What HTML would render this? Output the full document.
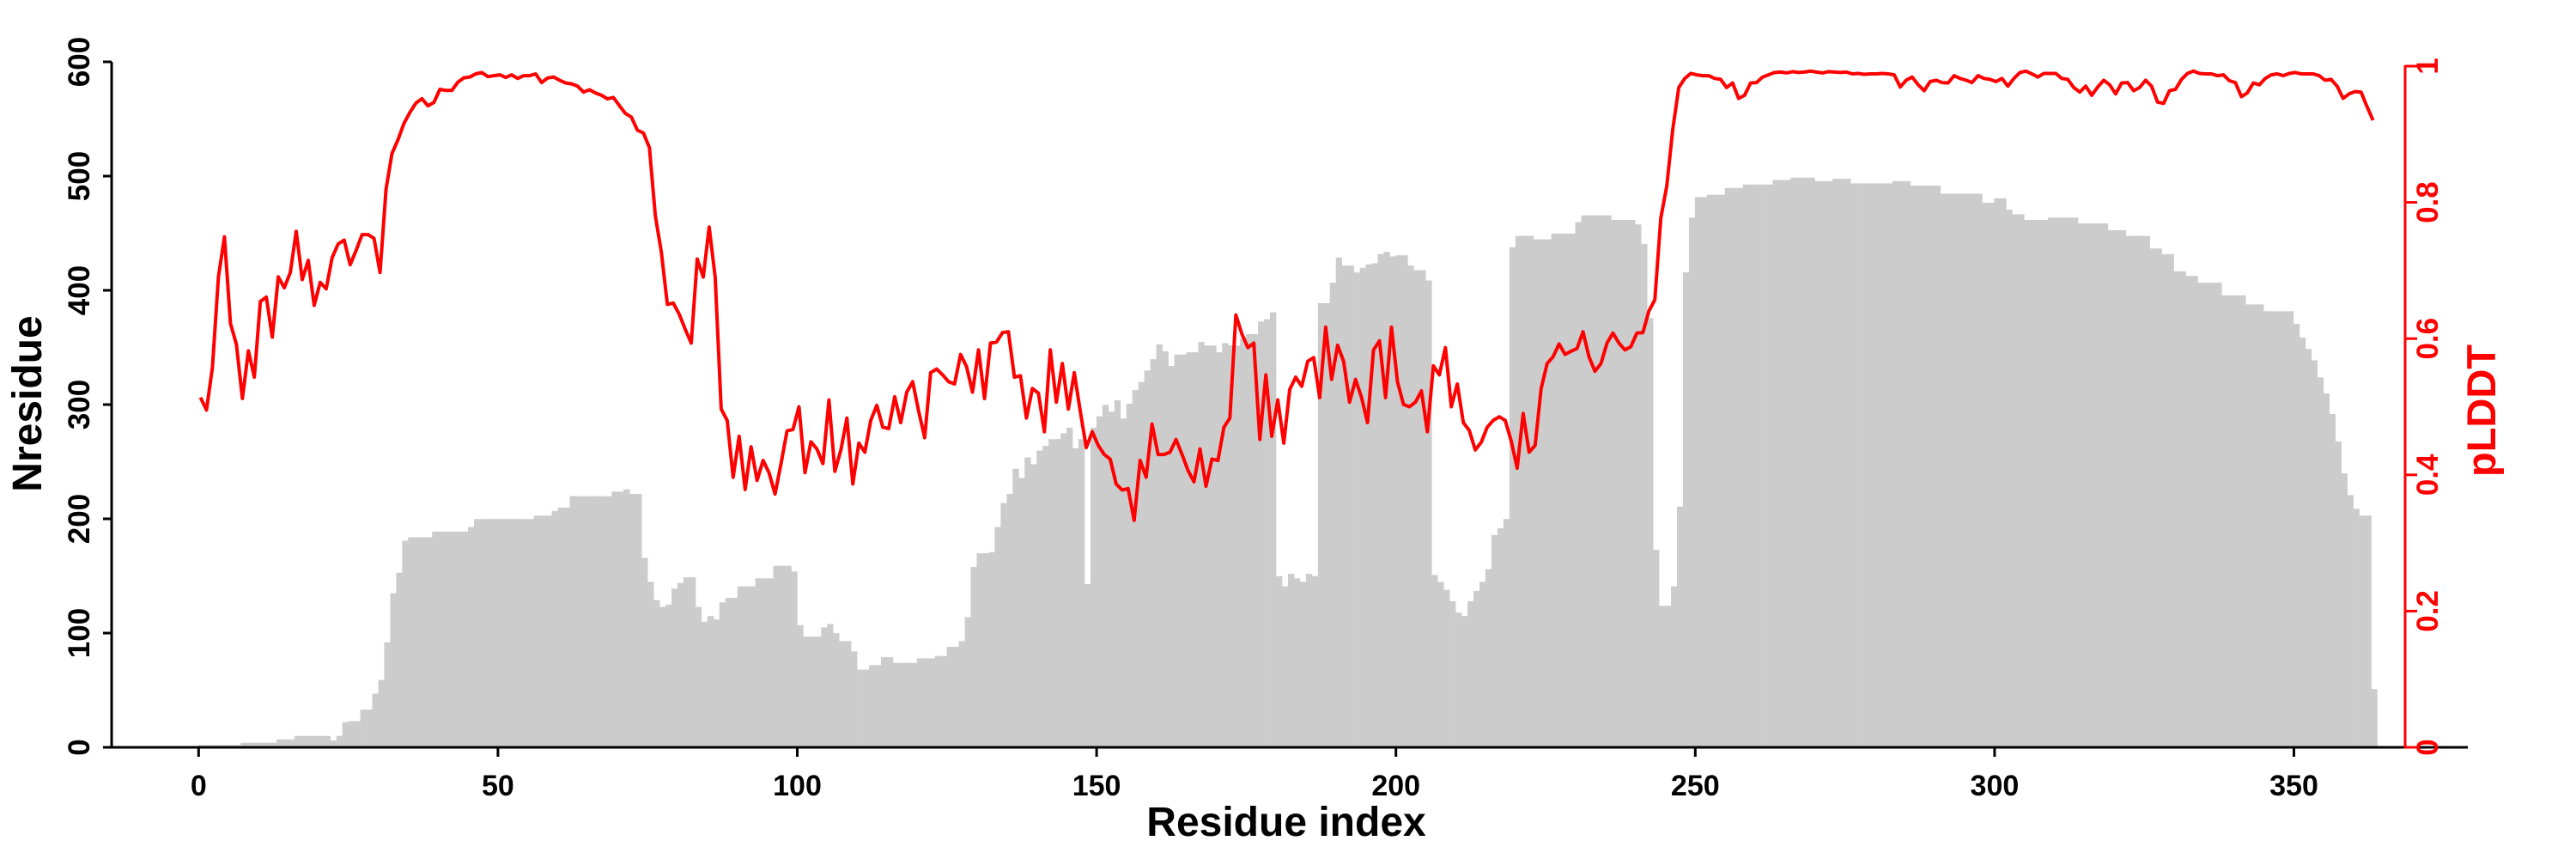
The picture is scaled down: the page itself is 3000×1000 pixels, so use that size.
<!DOCTYPE html>
<html><head><meta charset="utf-8">
<style>
html,body{margin:0;padding:0;background:#fff;}
svg{display:block;}
text{font-family:"Liberation Sans",Arial,sans-serif;font-weight:bold;}
</style></head>
<body>
<svg id="s" xmlns="http://www.w3.org/2000/svg" width="3000" height="1000" viewBox="0 0 3000 1000">
<g id="bars" fill="#cccccc"></g>
<polyline id="line" fill="none" stroke="#ff0000" stroke-width="4" stroke-linejoin="round"/>
<!-- left axis -->
<line x1="130" y1="72" x2="130" y2="871.5" stroke="#000" stroke-width="3"/>
<g stroke="#000" stroke-width="3">
<line x1="120" y1="870" x2="130" y2="870"/><line x1="120" y1="737" x2="130" y2="737"/>
<line x1="120" y1="604" x2="130" y2="604"/><line x1="120" y1="471" x2="130" y2="471"/>
<line x1="120" y1="338" x2="130" y2="338"/><line x1="120" y1="205" x2="130" y2="205"/>
<line x1="120" y1="72" x2="130" y2="72"/>
</g>
<g font-size="35" text-anchor="middle" fill="#000">
<text transform="translate(104,870) rotate(-90)">0</text>
<text transform="translate(104,737) rotate(-90)">100</text>
<text transform="translate(104,604) rotate(-90)">200</text>
<text transform="translate(104,471) rotate(-90)">300</text>
<text transform="translate(104,338) rotate(-90)">400</text>
<text transform="translate(104,205) rotate(-90)">500</text>
<text transform="translate(104,72) rotate(-90)">600</text>
</g>
<text transform="translate(48,470) rotate(-90)" font-size="48" text-anchor="middle">Nresidue</text>
<!-- x axis -->
<line x1="122" y1="870" x2="2874" y2="870" stroke="#000" stroke-width="3"/>
<g id="xt" stroke="#000" stroke-width="3"></g>
<g id="xl" font-size="34" text-anchor="middle" fill="#000"></g>
<text x="1498" y="973" font-size="48" text-anchor="middle">Residue index</text>
<!-- right axis -->
<line x1="2801" y1="76" x2="2801" y2="871.5" stroke="#ff0000" stroke-width="3"/>
<g id="rt" stroke="#ff0000" stroke-width="3"></g>
<g id="rl" font-size="35" text-anchor="middle" fill="#ff0000"></g>
<text transform="translate(2906,478) rotate(-90)" font-size="47" text-anchor="middle" fill="#ff0000">pLDDT</text>
</svg>
<script>
var NS="http://www.w3.org/2000/svg";
function el(t,a,p){var e=document.createElementNS(NS,t);for(var k in a)e.setAttribute(k,a[k]);p.appendChild(e);return e;}
// bars
var bp={0:2,7:4,13:7,16:10,22:6,23:10,24:22,25:23,27:33,29:47,30:59,31:92,32:135,33:153,34:181,35:184,39:189,45:193,46:200,56:203,59:207,60:210,62:220,69:224,71:226,72:222,74:166,75:145,76:129,77:123,78:125,79:139,80:144,81:149,83:123,84:110,85:115,86:112,87:127,88:131,90:141,93:148,96:159,99:154,100:107,101:97,104:105,105:108,106:100,107:93,109:84,110:68,112:72,114:79,116:74,120:78,123:80,125:88,127:93,128:114,129:158,130:170,132:171,133:193,134:214,135:222,136:244,137:236,138:254,139:248,140:260,141:264,142:270,144:275,145:280,146:262,147:270,148:143,149:280,150:290,151:300,152:294,153:304,154:288,155:301,156:313,157:320,158:330,159:340,160:353,161:347,162:334,163:344,165:346,167:355,168:352,170:346,171:354,172:352,174:358,175:362,177:373,178:375,179:381,180:150,181:141,182:152,183:148,184:145,185:152,186:150,187:389,189:407,190:429,191:422,193:416,194:420,195:423,196:424,197:432,198:434,199:430,200:431,202:422,203:418,205:409,206:151,207:145,208:138,209:128,210:118,211:115,212:128,213:137,214:145,215:156,216:186,217:192,218:200,219:438,220:448,223:445,226:450,230:460,231:466,236:462,240:458,241:441,242:376,243:173,244:124,246:141,247:211,248:416,249:464,250:482,252:484,255:490,258:493,263:497,266:499,270:496,273:498,276:494,283:496,286:492,291:485,296:485,298:477,300:481,302:471,303:467,305:462,309:464,314:459,319:453,322:448,326:437,328:432,330:417,332:413,334:407,338:396,342:388,345:382,350:371,351:359,352:349,353:339,354:324,355:310,356:292,357:268,358:240,359:221,360:209,361:203,363:51};
var bg=document.getElementById("bars"),cur=0,S=1.329;
for(var j=0;j<=363;j++){if(bp[j]!==undefined)cur=bp[j];var h=cur*S;
el("rect",{x:(231.4+6.97*j).toFixed(2),y:(870-h).toFixed(2),width:7.3,height:h.toFixed(2)},bg);}
// line
var z1=[725,748,670,505,432,590,628,727,640,688,550,542,615,505,525,497,422,510,475,557,515,527,470,445,438,483,457,428,428,435,497,345,280,255,225,205,188,180,193,187,163,165,165,150,142];
var z2=[75,68,65,74,72,70,76,70,78,72,72,68,87,77,75,82,88,90,95,108,103,110,115,123,120,138,155,163,192,198,230,380,460,575,572,597,630,660,475,515,405,515,805,830,955,865,982,888,962,918,945,992,925,853,850,800,945,877,893,925,785,942,895,825,970,880,900,830,797,845,848,778,835,768,745,810,868,725,717,730,745,750,685,712,768,675,782,
660,658,637,635,735,732,825,760,770,855,675,790,705,805,725,810,890,855,885,905,915,970,983,980,1050,918,955,838,905,905,900,872,905,940,965,893,975,915,918,845,825,598,640,670,660,872,730,865,785,880,762,735,755,700,692,780,625,740,665,700,790,740,780,835,675,655,780,625,745,795,800,790,765,855,710,730,670,800,750,835,852,895,878,845,830,822,
830,875,935,815,900,885,760,705,690,662,685,678,672,635,690,722,705,660,638,660,675,668,638,637,590,565,385,315,190,98,78,67,70,72,72,78,80,98,88,122,115,88,87,75,70,65,
64,66,63,65,64,62,64,66,63,64,65,64,68,67,69,68,68,67,68,70,97,82,75,92,105,85,82,87,88,72,78,82,87,
72,78,80,85,78,95,78,65,62,68,75,67,67,67,78,80,98,108,95,115,97,82,92,112,88,87,105,98,82,95,130,133,105,102,80,67,62,67,68,68,72,70,83,87,118,110,88,92,78,70,68,72,67,65,68,68,68,72,82,80,95,122,112,107,108,140,170];
var pts=[];
for(var i=0;i<z1.length;i++)pts.push((233.5+6.97*i).toFixed(1)+","+(z1[i]/1.567).toFixed(1));
for(var k=0;k<z2.length;k++){var jj=45+k;pts.push((233.5+6.97*jj).toFixed(1)+","+(50+z2[k]/1.889).toFixed(1));}
document.getElementById("line").setAttribute("points",pts.join(" "));
// x ticks
var xt=document.getElementById("xt"),xl=document.getElementById("xl");
for(var v=0;v<=350;v+=50){var x=231.3+6.972*v;el("line",{x1:x,y1:870,x2:x,y2:881},xt);var t=el("text",{x:x,y:926},xl);t.textContent=v;}
// right ticks
var rt=document.getElementById("rt"),rl=document.getElementById("rl");
var labs=["0","0.2","0.4","0.6","0.8","1"];
for(var q=0;q<6;q++){var y=870-q*0.2*793;el("line",{x1:2801,y1:y,x2:2815,y2:y},rt);var tt=el("text",{transform:"translate(2839,"+y+") rotate(-90)"},rl);tt.textContent=labs[q];}
</script>
</body></html>
